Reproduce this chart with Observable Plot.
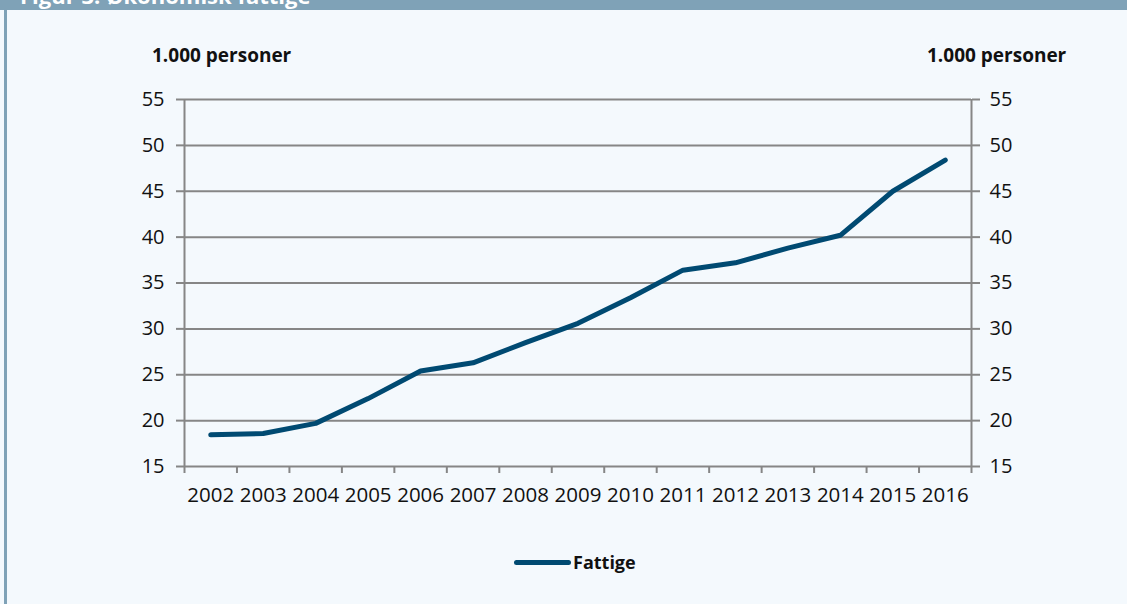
<!DOCTYPE html>
<html>
<head>
<meta charset="utf-8">
<script src="https://cdn.jsdelivr.net/npm/d3@7"></script>
<script src="https://cdn.jsdelivr.net/npm/@observablehq/plot@0.6"></script>
<style>
  html, body { margin: 0; padding: 0; }
  body { width: 1127px; height: 604px; background: #f4f9fd; position: relative; overflow: hidden; font-family: "Open Sans", sans-serif; color: #111; }
  #banner { position: absolute; left: 0; top: 0; width: 1127px; height: 10px; background: #7fa2b7; overflow: hidden; }
  #banner span { position: absolute; left: 20px; top: -20px; line-height: normal; color: #fff; font-weight: bold; font-size: 22px; white-space: nowrap; }
  #strip { position: absolute; left: 4px; top: 10px; width: 3px; height: 594px; background: #7fa2b7; }
  .unit { position: absolute; top: 42px; font-weight: bold; font-size: 19px; white-space: nowrap; }
  #chart { position: absolute; left: 0; top: 0; }
  #legend { position: absolute; left: 514px; top: 550px; display: flex; align-items: center; font-weight: bold; font-size: 18px; }
  #legend .sw { width: 57px; height: 5px; background: #004a72; border-radius: 3px; margin-right: 2px; }
</style>
</head>
<body>
<div id="banner"><span>Figur 3. Økonomisk fattige</span></div>
<div id="strip"></div>
<div class="unit" style="left:152px">1.000 personer</div>
<div class="unit" style="left:927px">1.000 personer</div>
<div id="chart"></div>
<div id="legend"><div class="sw"></div><span>Fattige</span></div>
<script>
const years = [2002, 2003, 2004, 2005, 2006, 2007, 2008, 2009, 2010, 2011, 2012, 2013, 2014, 2015, 2016];
const fattige = [18.45, 18.6, 19.7, 22.4, 25.4, 26.3, 28.5, 30.6, 33.4, 36.4, 37.2, 38.8, 40.2, 45.0, 48.4];
const yTicks = [15, 20, 25, 30, 35, 40, 45, 50, 55];
const seriesName = "Fattige";

const data = years.map((y, i) => ({year: y, value: fattige[i], series: seriesName}));
const xLo = years[0] - 0.5, xHi = years[years.length - 1] + 0.5;
const boundaries = years.map(y => y - 0.5).concat([xHi]);

const gray = "#868686";
const chart = Plot.plot({
  width: 1127,
  height: 520,
  marginLeft: 184,
  marginRight: 156,
  marginTop: 99,
  marginBottom: 54,
  style: {background: "transparent", fontFamily: "Open Sans, sans-serif", color: "#111", overflow: "visible"},
  x: {type: "linear", domain: [xLo, xHi]},
  y: {domain: [yTicks[0], yTicks[yTicks.length - 1]]},
  marks: [
    Plot.gridY(yTicks, {stroke: gray, strokeOpacity: 1, strokeWidth: 2}),
    Plot.ruleX([xLo, xHi], {stroke: gray, strokeWidth: 2}),
    Plot.axisY({anchor: "left", ticks: yTicks, tickSize: 8, tickPadding: 12, stroke: gray, strokeWidth: 2, fill: "#111", fontSize: 20, label: null, tickFormat: d => String(d)}),
    Plot.axisY({anchor: "right", ticks: yTicks, tickSize: 8, tickPadding: 10, stroke: gray, strokeWidth: 2, fill: "#111", fontSize: 20, label: null, tickFormat: d => String(d)}),
    Plot.axisX({anchor: "bottom", ticks: boundaries, tickSize: 7, stroke: gray, strokeWidth: 2, tickFormat: () => "", label: null}),
    Plot.axisX({anchor: "bottom", ticks: years, tickSize: 0, tickPadding: 21, fill: "#111", fontSize: 20.5, label: null, tickFormat: d => String(d)}),
    Plot.line(data, {x: "year", y: "value", stroke: "#004a72", strokeWidth: 5, strokeLinecap: "round", strokeLinejoin: "round"})
  ]
});
document.getElementById("chart").appendChild(chart);
</script>
</body>
</html>
